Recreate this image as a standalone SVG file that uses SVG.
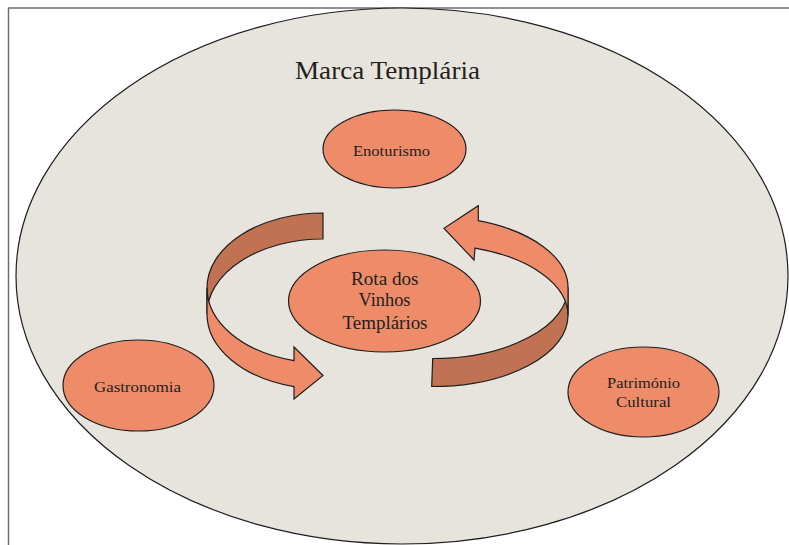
<svg xmlns="http://www.w3.org/2000/svg" width="789" height="545" viewBox="0 0 789 545">
  <style>
    .frame { stroke: #6f6d6a; stroke-width: 1.5; fill: none; }
    .outer { fill: #e7e4dd; stroke: #1e1e1e; stroke-width: 1.2; }
    .node { fill: #ee8c6a; stroke: #1e1e1e; stroke-width: 1.2; }
    .front { fill: #ee8c6a; stroke: #1e1e1e; stroke-width: 1.2; stroke-linejoin: miter; }
    .back { fill: #c07252; stroke: #1e1e1e; stroke-width: 1.2; stroke-linejoin: miter; }
    .lbl { font-family: "Liberation Serif", "Times New Roman", serif; fill: #231f1c; text-anchor: middle; }
    .title { font-size: 25px; }
    .small { font-size: 15px; }
    .mid { font-size: 18px; }
  </style>
  <rect x="0" y="0" width="789" height="545" fill="#ffffff"/>
  <g id="frame">
    <line class="frame" x1="8" y1="8" x2="789" y2="8"/>
    <line class="frame" x1="8.5" y1="8" x2="8.5" y2="545"/>
  </g>
  <g id="marca-templaria">
    <ellipse class="outer" cx="402" cy="276" rx="386" ry="268"/>
    <text class="lbl title" x="387.5" y="79" textLength="185" lengthAdjust="spacingAndGlyphs">Marca Templária</text>
  </g>
  <g id="enoturismo">
    <ellipse class="node" cx="394.5" cy="149" rx="71.5" ry="39"/>
    <text class="lbl small" x="391.5" y="156" textLength="77" lengthAdjust="spacingAndGlyphs">Enoturismo</text>
  </g>
  <g id="gastronomia">
    <ellipse class="node" cx="138.5" cy="385.5" rx="75.5" ry="45.5"/>
    <text class="lbl small" x="137.5" y="392" textLength="87" lengthAdjust="spacingAndGlyphs">Gastronomia</text>
  </g>
  <g id="patrimonio-cultural">
    <ellipse class="node" cx="643.5" cy="392" rx="75.5" ry="45"/>
    <text class="lbl small" x="643.5" y="388" textLength="73" lengthAdjust="spacingAndGlyphs">Património</text>
    <text class="lbl small" x="643.5" y="406.5" textLength="55" lengthAdjust="spacingAndGlyphs">Cultural</text>
  </g>
  <g id="rota-dos-vinhos-templarios">
    <ellipse class="node" cx="384.5" cy="301" rx="96" ry="51"/>
    <text class="lbl mid" x="384.8" y="284.5" textLength="67.5" lengthAdjust="spacingAndGlyphs">Rota dos</text>
    <text class="lbl mid" x="384.5" y="306" textLength="52" lengthAdjust="spacingAndGlyphs">Vinhos</text>
    <text class="lbl mid" x="385" y="328.5" textLength="85" lengthAdjust="spacingAndGlyphs">Templários</text>
  </g>
  <g id="connectors">
    <g id="arrow-left">
      <path class="back" d="M 323 213 A 116 75 0 0 0 207 288 L 207 314 A 116 75 0 0 1 323 239 Z"/>
      <path class="front" d="M 207 288 A 116 75 0 0 0 294 360.6 L 294 347 L 323 375.5 L 294 399 L 294 386.6 A 116 75 0 0 1 207 314 Z"/>
    </g>
    <g id="arrow-right">
      <path class="back" d="M 432.7 358.5 A 136 71 0 0 0 568 287.5 L 568 315.5 A 136 71 0 0 1 431.7 386.5 Z"/>
      <path class="front" d="M 568 287.5 A 136 71 0 0 0 478.3 220.7 L 478.3 205.7 L 444 228.3 L 474 260 L 475 248.1 A 136 71 0 0 1 568 315.5 Z"/>
    </g>
  </g>
</svg>
